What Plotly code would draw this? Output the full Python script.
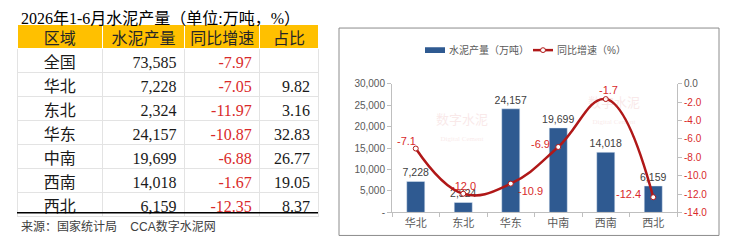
import plotly.graph_objects as go

# ---------------- data ----------------
table_regions = ["全国", "华北", "东北", "华东", "中南", "西南", "西北"]
table_output = [73585, 7228, 2324, 24157, 19699, 14018, 6159]
table_growth = [-7.97, -7.05, -11.97, -10.87, -6.88, -1.67, -12.35]
table_share = [None, 9.82, 3.16, 32.83, 26.77, 19.05, 8.37]
table_headers = ["区域", "水泥产量", "同比增速", "占比"]

chart_regions = ["华北", "东北", "华东", "中南", "西南", "西北"]
chart_output = [7228, 2324, 24157, 19699, 14018, 6159]
chart_growth = [-7.05, -11.97, -10.87, -6.88, -1.67, -12.35]
chart_growth_labels = ["-7.1", "-12.0", "-10.9", "-6.9", "-1.7", "-12.4"]
label_xshift = [-9, 0, 20, -18, 3, -25]
label_yshift = [8, 8, -7, 3, 9, 3]

left_ticks = [0, 5000, 10000, 15000, 20000, 25000, 30000]
left_ticktext = ["-", "5,000", "10,000", "15,000", "20,000", "25,000", "30,000"]
right_ticks = [0, -2, -4, -6, -8, -10, -12, -14]

bar_legend = "水泥产量（万吨）"
line_legend = "同比增速（%）"
title_text = "2026年1-6月水泥产量（单位:万吨，%）"
source_text = "来源：国家统计局    CCA数字水泥网"

# ---------------- styling ----------------
W, H = 729, 251
RED = "#D92A2A"
BLUE = "#2F5A91"
LINE_RED = "#B01818"
GRAY = "#595959"
SERIF = "Liberation Serif, Noto Sans CJK SC, serif"
SANS = "Liberation Sans, Noto Sans CJK SC, sans-serif"

def px_x(p):
    return p / W

def px_y(p):
    return (H - p) / H

fig = go.Figure()

# ---------------- table ----------------
col_vals = [
    table_regions,
    [f"{v:,}" for v in table_output],
    [f"{v:.2f}" for v in table_growth],
    ["" if v is None else f"{v:.2f}" for v in table_share],
]
n = len(table_regions)
font_colors = [["#1a1a1a"] * n, ["#1a1a1a"] * n, [RED] * n, ["#1a1a1a"] * n]

fig.add_trace(go.Table(
    domain=dict(x=[px_x(17), px_x(318)], y=[px_y(236), px_y(20)]),
    columnwidth=[85, 82, 75, 58],
    header=dict(
        values=table_headers,
        fill_color="#FFC000",
        line=dict(color="#FFFFFF", width=1),
        align="center",
        height=24,
        font=dict(family=SERIF, size=16, color="#262626"),
    ),
    cells=dict(
        values=col_vals,
        fill_color="#FFFFFF",
        line=dict(color="#E3E3E3", width=1),
        align=["center", "right", "right", "right"],
        height=24,
        font=dict(family=SERIF, size=16, color=font_colors),
    ),
))

# ---------------- chart ----------------
fig.add_trace(go.Bar(
    x=chart_regions, y=chart_output, name=bar_legend,
    marker=dict(color=BLUE), width=0.38,
    text=[f"{v:,}" for v in chart_output], textposition="outside",
    constraintext="none",
    textfont=dict(family=SANS, size=10.5, color="#404040"),
    cliponaxis=False, xaxis="x", yaxis="y", showlegend=False,
))

fig.add_trace(go.Scatter(
    x=chart_regions, y=chart_growth, name=line_legend,
    mode="lines+markers",
    line=dict(color=LINE_RED, width=2.5, shape="spline", smoothing=1.2),
    marker=dict(symbol="circle", size=5, color="#FFFFFF", line=dict(color=LINE_RED, width=1)),
    cliponaxis=False, xaxis="x", yaxis="y2", showlegend=False,
))

for xc, yv, lab, dx, dy in zip(chart_regions, chart_growth, chart_growth_labels, label_xshift, label_yshift):
    fig.add_annotation(x=xc, y=yv, xref="x", yref="y2", text=lab, showarrow=False,
                       xshift=dx, yshift=dy, font=dict(family=SANS, size=11, color=RED))

right_ticktext = []
for v in right_ticks:
    if v == 0:
        right_ticktext.append("0.0")
    else:
        right_ticktext.append(f"<span style='color:{RED}'>{v:.1f}</span>")

fig.update_layout(
    width=W, height=H,
    margin=dict(l=0, r=0, t=0, b=0),
    paper_bgcolor="#FFFFFF", plot_bgcolor="rgba(0,0,0,0)",
    showlegend=False,
    bargap=0.6,
    xaxis=dict(domain=[px_x(392), px_x(677)], anchor="y", type="category",
               showline=True, linecolor="#BFBFBF", linewidth=1,
               ticks="outside", tickson="boundaries", ticklen=4, tickcolor="#BFBFBF",
               tickfont=dict(family=SANS, size=11, color=GRAY), showgrid=False),
    yaxis=dict(domain=[px_y(216), px_y(82)], anchor="x", range=[0, 30000],
               tickvals=left_ticks, ticktext=left_ticktext,
               showline=True, linecolor="#BFBFBF", linewidth=1,
               ticks="outside", ticklen=4, tickcolor="#BFBFBF",
               tickfont=dict(family=SANS, size=10, color=GRAY),
               showgrid=False, zeroline=False),
    yaxis2=dict(overlaying="y", side="right", anchor="x", range=[-14, 0],
                tickvals=right_ticks, ticktext=right_ticktext,
                showline=True, linecolor="#BFBFBF", linewidth=1,
                ticks="outside", ticklen=4, tickcolor="#BFBFBF",
                tickfont=dict(family=SANS, size=10, color=GRAY),
                showgrid=False, zeroline=False),
)

# custom legend
fig.add_shape(type="rect", xref="paper", yref="paper",
              x0=px_x(425), x1=px_x(445), y0=px_y(50), y1=px_y(44),
              line=dict(width=0), fillcolor=BLUE)
fig.add_annotation(text=bar_legend, xref="paper", yref="paper", x=px_x(447), y=px_y(47),
                   xanchor="left", yanchor="middle", showarrow=False,
                   font=dict(family=SANS, size=10, color=GRAY))
fig.add_shape(type="line", xref="paper", yref="paper",
              x0=px_x(533), x1=px_x(553), y0=px_y(47), y1=px_y(47),
              line=dict(color=LINE_RED, width=2.5))
fig.add_shape(type="circle", xref="paper", yref="paper",
              x0=px_x(540.5), x1=px_x(545.5), y0=px_y(49.5), y1=px_y(44.5),
              line=dict(color=LINE_RED, width=1), fillcolor="#FFFFFF")
fig.add_annotation(text=line_legend, xref="paper", yref="paper", x=px_x(555), y=px_y(47),
                   xanchor="left", yanchor="middle", showarrow=False,
                   font=dict(family=SANS, size=10, color=GRAY))

# chart border
fig.add_shape(type="rect", xref="paper", yref="paper",
              x0=px_x(339), x1=px_x(719), y0=px_y(240), y1=px_y(24),
              line=dict(color="#8C8C8C", width=1), fillcolor="rgba(0,0,0,0)", layer="below")
# table bottom rule
fig.add_shape(type="line", xref="paper", yref="paper",
              x0=px_x(17), x1=px_x(318), y0=px_y(216.5), y1=px_y(216.5),
              line=dict(color="#000000", width=1.5))

# title & source
fig.add_annotation(text=title_text, xref="paper", yref="paper",
                   x=px_x(19), y=px_y(14), xanchor="left", yanchor="middle",
                   showarrow=False, font=dict(family=SERIF, size=16, color="#000000"))
fig.add_annotation(text=source_text, xref="paper", yref="paper",
                   x=px_x(19), y=px_y(231), xanchor="left", yanchor="middle",
                   showarrow=False, font=dict(family=SANS, size=12, color="#404040"))

# faint watermarks
fig.add_annotation(text="数字水泥<br><span style='font-size:7px'>Digital Cement</span>",
                   xref="paper", yref="paper", x=px_x(462), y=px_y(128),
                   showarrow=False, opacity=0.12,
                   font=dict(family=SERIF, size=13, color="#D05050"))
fig.add_annotation(text="数字水泥<br><span style='font-size:7px'>Digital Cement</span>",
                   xref="paper", yref="paper", x=px_x(642), y=px_y(110),
                   showarrow=False, opacity=0.12,
                   font=dict(family=SERIF, size=13, color="#D05050"))

fig.write_html("out.html")
